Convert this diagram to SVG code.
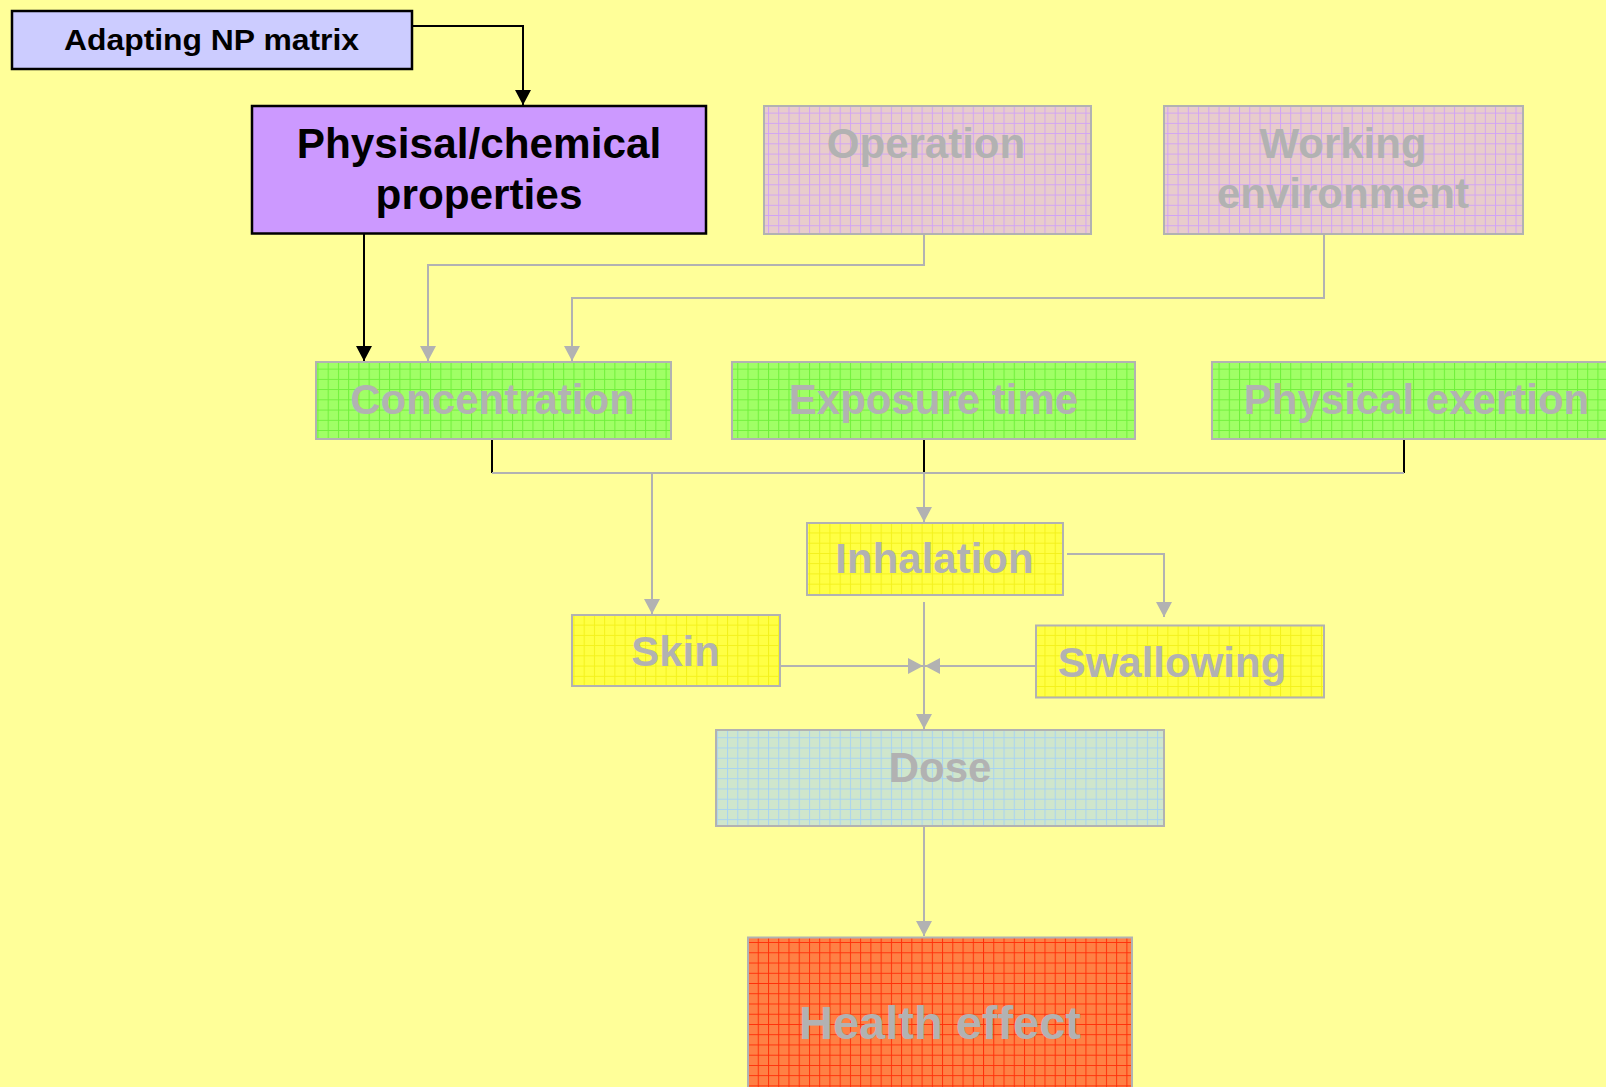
<svg xmlns="http://www.w3.org/2000/svg" width="1606" height="1087" viewBox="0 0 1606 1087">
  <style>
    .t { font-family: "Liberation Sans", Arial, sans-serif; font-weight: bold; text-anchor: middle; }
    .dark { fill: #000000; }
    .faded { fill: #b2b2b2; }
    .box-dark { stroke: #000000; stroke-width: 2.5; }
    .box-gray { stroke: #b2b2b2; stroke-width: 2; }
    .c-gray { fill: none; stroke: #b2b2b2; stroke-width: 2; }
    .c-black { fill: none; stroke: #000000; stroke-width: 2; }
  </style>
  <defs>
    <!-- graph-paper fills: base colour plus a thin grid every ~10px -->
    <pattern id="grid-pink" width="10.24" height="10.24" patternUnits="userSpaceOnUse">
      <rect width="10.24" height="10.24" fill="#e8cccc"/>
      <path d="M0 0.5H10.24M0.5 0V10.24" stroke="#cc99ff" stroke-width="1" stroke-opacity="0.8"/>
    </pattern>
    <pattern id="grid-green" width="10.24" height="10.24" patternUnits="userSpaceOnUse">
      <rect width="10.24" height="10.24" fill="#a0ff66"/>
      <path d="M0 0.5H10.24M0.5 0V10.24" stroke="#66ee33" stroke-width="1" stroke-opacity="0.85"/>
    </pattern>
    <pattern id="grid-yellow" width="10.24" height="10.24" patternUnits="userSpaceOnUse">
      <rect width="10.24" height="10.24" fill="#ffff44"/>
      <path d="M0 0.5H10.24M0.5 0V10.24" stroke="#f0ee10" stroke-width="1" stroke-opacity="0.8"/>
    </pattern>
    <pattern id="grid-blue" width="10.24" height="10.24" patternUnits="userSpaceOnUse">
      <rect width="10.24" height="10.24" fill="#cfe6cc"/>
      <path d="M0 0.5H10.24M0.5 0V10.24" stroke="#99ccff" stroke-width="1" stroke-opacity="0.75"/>
    </pattern>
    <pattern id="grid-red" width="10.24" height="10.24" patternUnits="userSpaceOnUse">
      <rect width="10.24" height="10.24" fill="#ff8044"/>
      <path d="M0 0.5H10.24M0.5 0V10.24" stroke="#ff2200" stroke-width="1" stroke-opacity="0.85"/>
    </pattern>
    <marker id="ah-gray" markerUnits="userSpaceOnUse" markerWidth="15" markerHeight="16" refX="15" refY="8" orient="auto">
      <path d="M0 0L15 8L0 16z" fill="#b2b2b2"/>
    </marker>
    <marker id="ah-black" markerUnits="userSpaceOnUse" markerWidth="15" markerHeight="16" refX="15" refY="8" orient="auto">
      <path d="M0 0L15 8L0 16z" fill="#000000"/>
    </marker>
  </defs>

  <rect width="1606" height="1087" fill="#ffff99"/>

  <g id="connectors">
    <path class="c-black" d="M412 26H523V105" marker-end="url(#ah-black)"/>
    <path class="c-black" d="M364 234V361" marker-end="url(#ah-black)"/>
    <path class="c-gray" d="M924 234V265H428V361" marker-end="url(#ah-gray)"/>
    <path class="c-gray" d="M1324 234V298H572V361" marker-end="url(#ah-gray)"/>
    <!-- stubs below the green row -->
    <path class="c-black" d="M492 440V473"/>
    <path class="c-black" d="M924 440V473"/>
    <path class="c-black" d="M1404 440V473"/>
    <path class="c-gray" d="M492 473H1404"/>
    <path class="c-gray" d="M652 473V614" marker-end="url(#ah-gray)"/>
    <path class="c-gray" d="M924 473V522" marker-end="url(#ah-gray)"/>
    <path class="c-gray" d="M1067 554H1164V617" marker-end="url(#ah-gray)"/>
    <path class="c-gray" d="M780 666H923" marker-end="url(#ah-gray)"/>
    <path class="c-gray" d="M1035 666H925" marker-end="url(#ah-gray)"/>
    <path class="c-gray" d="M924 602V729" marker-end="url(#ah-gray)"/>
    <path class="c-gray" d="M924 826V936" marker-end="url(#ah-gray)"/>
  </g>

  <g id="adapting">
    <rect x="12" y="11" width="400" height="58" fill="#ccccff" class="box-dark" stroke-width="2"/>
    <text class="t dark" x="211.5" y="50" font-size="29.5" textLength="295" lengthAdjust="spacingAndGlyphs">Adapting NP matrix</text>
  </g>

  <g id="properties">
    <rect x="252" y="106" width="454" height="127.5" fill="#cc99ff" class="box-dark"/>
    <text class="t dark" x="479" y="158" font-size="42.3">Physisal/chemical</text>
    <text class="t dark" x="479" y="208.5" font-size="42.3">properties</text>
  </g>

  <g id="operation">
    <rect x="764" y="106" width="327" height="128" fill="url(#grid-pink)" class="box-gray"/>
    <text class="t faded" x="926" y="158" font-size="42">Operation</text>
  </g>

  <g id="working-environment">
    <rect x="1164" y="106" width="359" height="128" fill="url(#grid-pink)" class="box-gray"/>
    <text class="t faded" x="1343" y="158" font-size="42">Working</text>
    <text class="t faded" x="1343" y="208" font-size="42">environment</text>
  </g>

  <g id="concentration">
    <rect x="316" y="362" width="355" height="77" fill="url(#grid-green)" class="box-gray"/>
    <text class="t faded" x="492.5" y="414" font-size="42">Concentration</text>
  </g>

  <g id="exposure-time">
    <rect x="732" y="362" width="403" height="77" fill="url(#grid-green)" class="box-gray"/>
    <text class="t faded" x="933.5" y="414" font-size="42">Exposure time</text>
  </g>

  <g id="physical-exertion">
    <rect x="1212" y="362" width="410" height="77" fill="url(#grid-green)" class="box-gray"/>
    <text class="t faded" x="1416.5" y="414" font-size="42">Physical exertion</text>
  </g>

  <g id="inhalation">
    <rect x="807" y="523" width="256" height="72" fill="url(#grid-yellow)" class="box-gray"/>
    <text class="t faded" x="934.5" y="573" font-size="42">Inhalation</text>
  </g>

  <g id="skin">
    <rect x="572" y="615" width="208" height="71" fill="url(#grid-yellow)" class="box-gray"/>
    <text class="t faded" x="675.5" y="666" font-size="42">Skin</text>
  </g>

  <g id="swallowing">
    <rect x="1036" y="625.5" width="288" height="72" fill="url(#grid-yellow)" class="box-gray"/>
    <text class="t faded" x="1172" y="677" font-size="42">Swallowing</text>
  </g>

  <g id="dose">
    <rect x="716" y="730" width="448" height="96" fill="url(#grid-blue)" class="box-gray"/>
    <text class="t faded" x="940" y="782" font-size="42">Dose</text>
  </g>

  <g id="health-effect">
    <rect x="748" y="937.5" width="384" height="160" fill="url(#grid-red)" class="box-gray"/>
    <text class="t faded" x="940" y="1039" font-size="47">Health effect</text>
  </g>
</svg>
